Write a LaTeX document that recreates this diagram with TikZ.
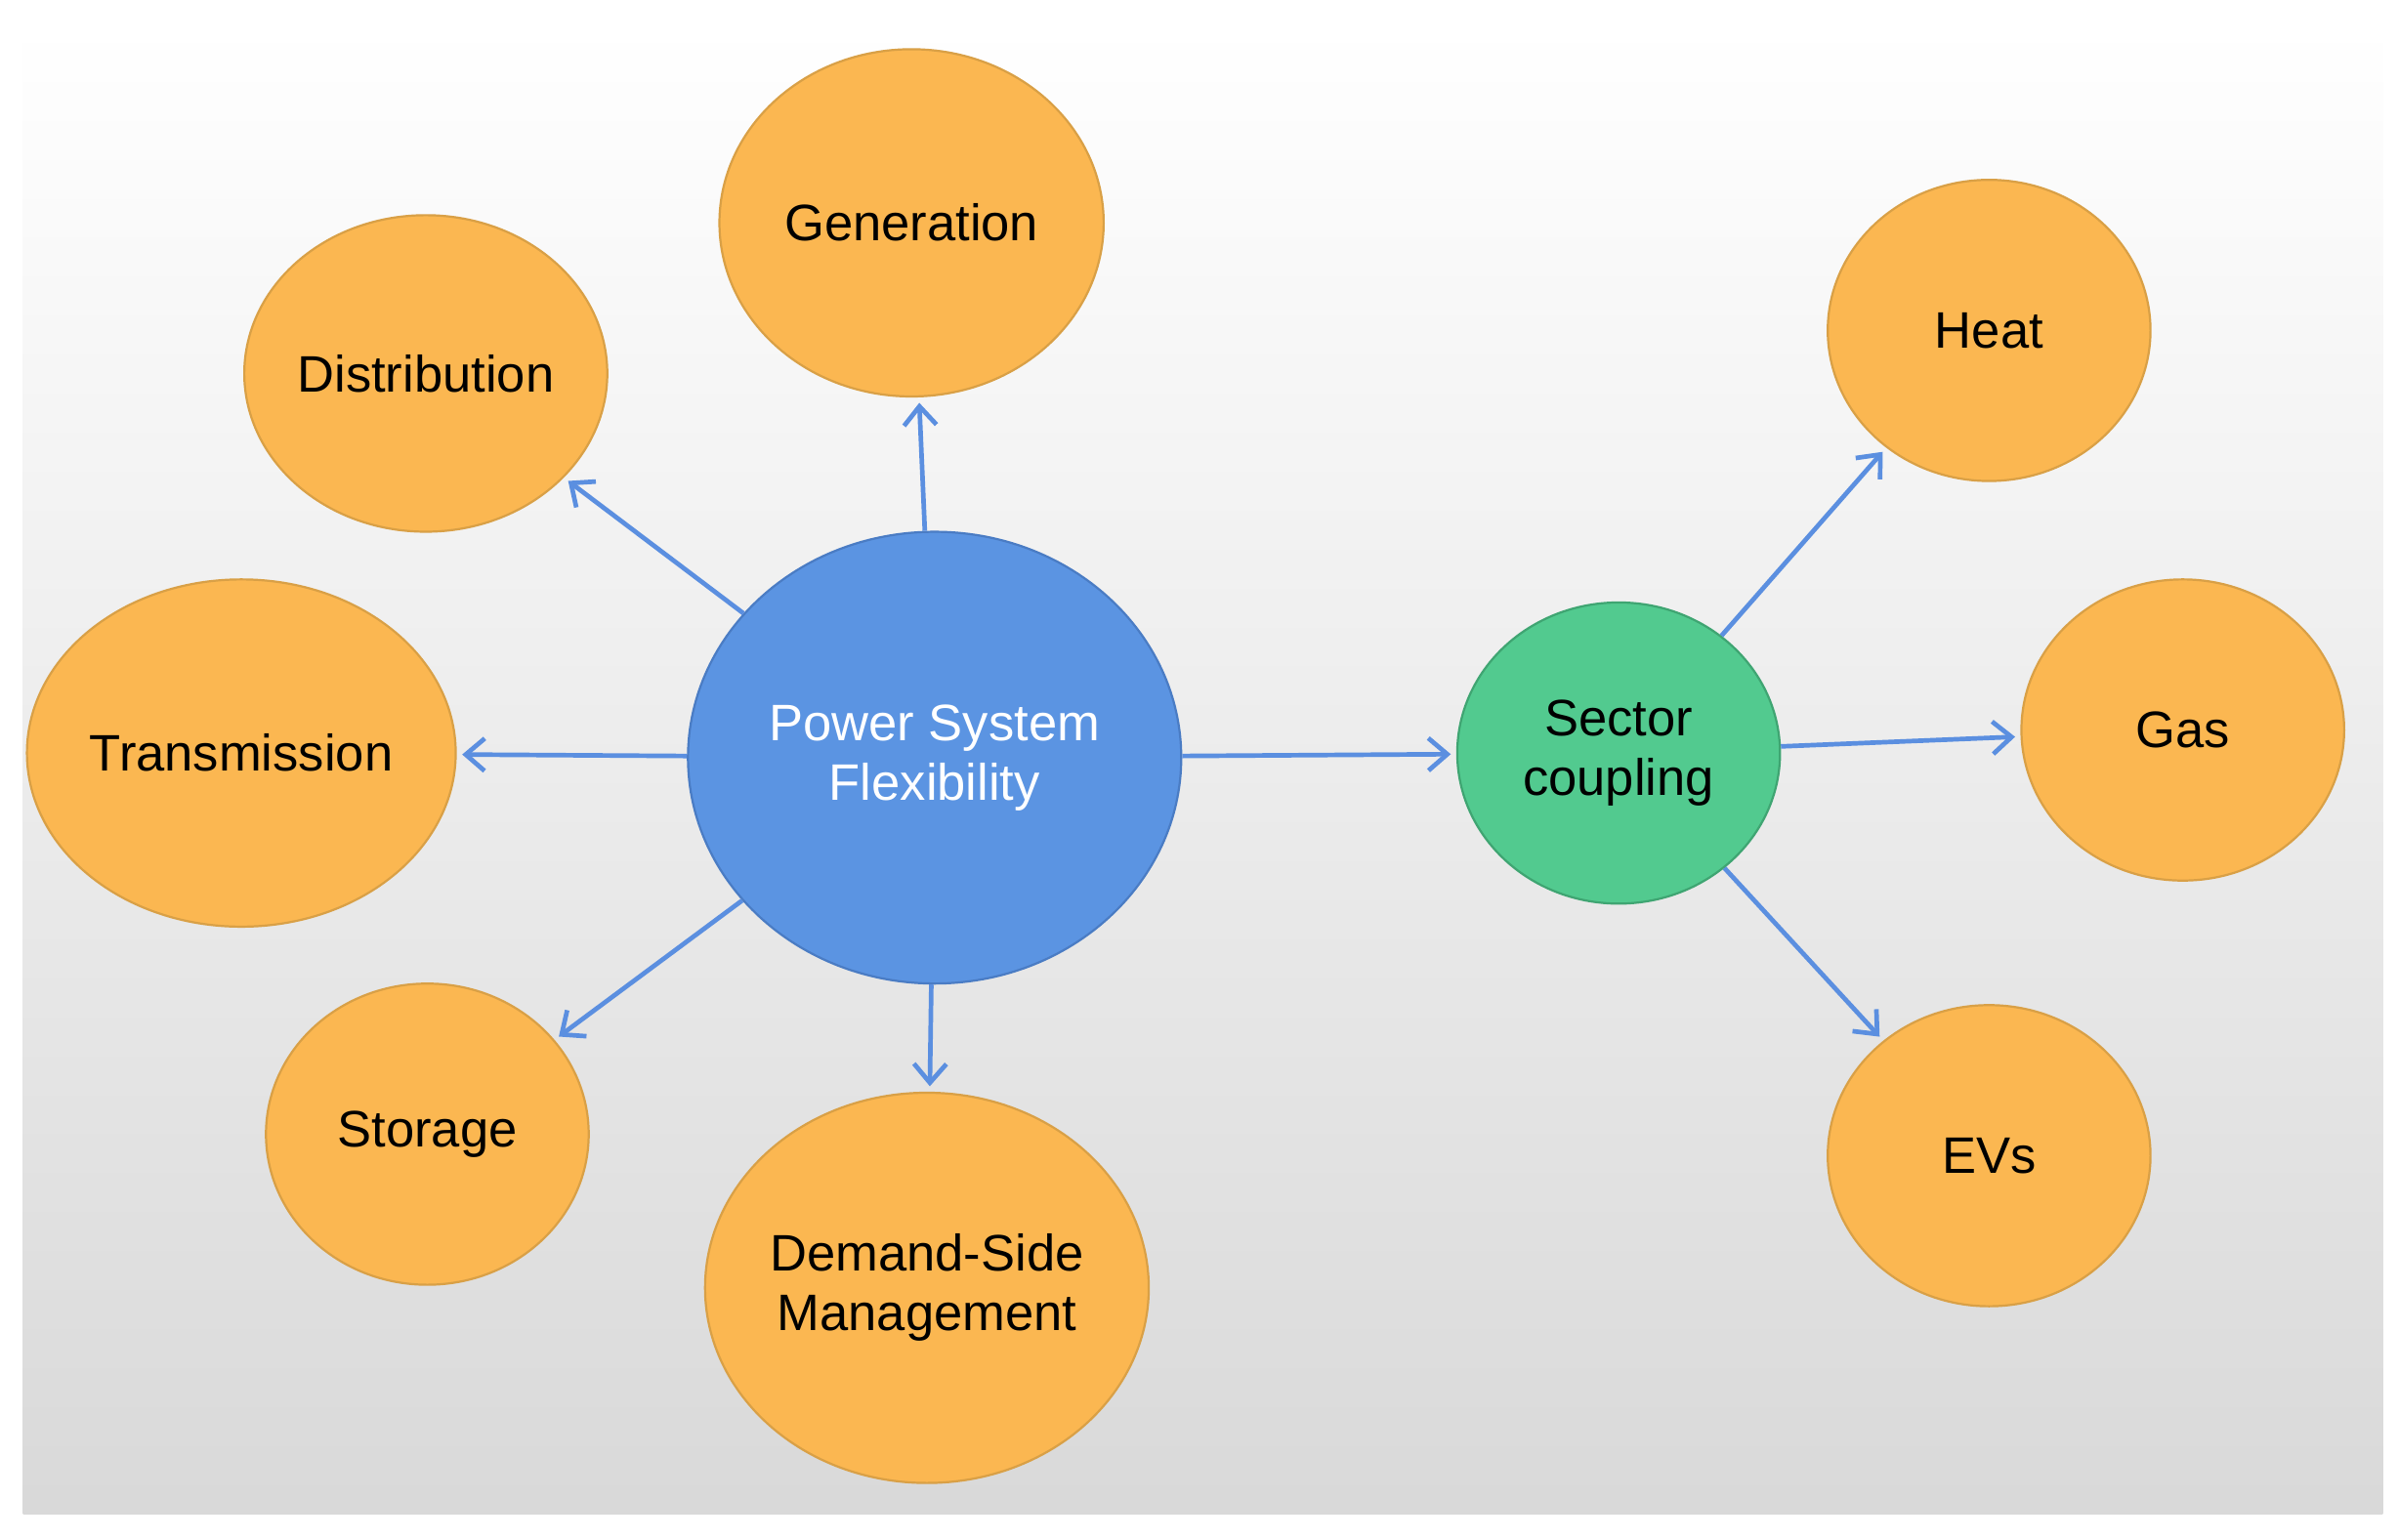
\documentclass[tikz,border=0pt]{standalone}
\usepackage{fontspec}
\setmainfont{Liberation Sans}
\usetikzlibrary{shapes.geometric,arrows.meta}
\definecolor{orng}{HTML}{FBB751}
\definecolor{orngb}{HTML}{D9A046}
\definecolor{blu}{HTML}{5B94E2}
\definecolor{blub}{HTML}{4A7CC4}
\definecolor{grn}{HTML}{52CA8F}
\definecolor{grnb}{HTML}{3FA572}
\definecolor{arr}{HTML}{5B8FE0}
\begin{document}
\begin{tikzpicture}[x=0.02cm,y=-0.02cm,
  bub/.style={ellipse,draw=orngb,line width=0.8pt,fill=orng,inner sep=0pt,font=\fontsize{19}{22}\selectfont,align=center},
  con/.style={draw=arr,line width=1.7pt,-{Straight Barb[length=7pt,width=12pt,line width=1.7pt]},shorten >=2pt}]
\useasboundingbox (0,0) rectangle (1560,1002);
\shade[top color=white,bottom color=black!15] (15,15) rectangle (1550,985);
\node[bub,minimum width=250\pgflinewidth*0+5cm,minimum height=4.52cm] (gen) at (593,145) {Generation};
\node[bub,minimum width=4.6cm,minimum height=4.12cm] (dis) at (277,243) {Distribution};
\node[bub,minimum width=4.72cm,minimum height=4.52cm] (tra) at (157,490) {Transmission};
\node[bub,minimum width=4.2cm,minimum height=3.92cm] (sto) at (278,738) {Storage};
\node[bub,minimum width=5.4cm,minimum height=5.08cm] (dsm) at (603,838) {Demand-Side\\Management};
\node[ellipse,draw=blub,line width=0.8pt,fill=blu,text=white,minimum width=6.2cm,minimum height=5.88cm,font=\fontsize{19}{22}\selectfont,align=center] (psf) at (608,493) {Power System\\Flexibility};
\node[ellipse,draw=grnb,line width=0.8pt,fill=grn,minimum width=4.2cm,minimum height=3.92cm,font=\fontsize{19}{22}\selectfont,align=center] (sc) at (1053,490) {Sector\\coupling};
\node[bub,minimum width=4.2cm,minimum height=3.92cm] (heat) at (1294,215) {Heat};
\node[bub,minimum width=4.2cm,minimum height=3.92cm] (gas) at (1420,475) {Gas};
\node[bub,minimum width=4.2cm,minimum height=3.92cm] (ev) at (1294,752) {EVs};
\draw[con] (psf) -- (gen);
\draw[con] (psf) -- (dis);
\draw[con] (psf) -- (tra);
\draw[con] (psf) -- (sto);
\draw[con] (psf) -- (dsm);
\draw[con] (psf) -- (sc);
\draw[con] (sc) -- (heat);
\draw[con] (sc) -- (gas);
\draw[con] (sc) -- (ev);
\end{tikzpicture}
\end{document}
